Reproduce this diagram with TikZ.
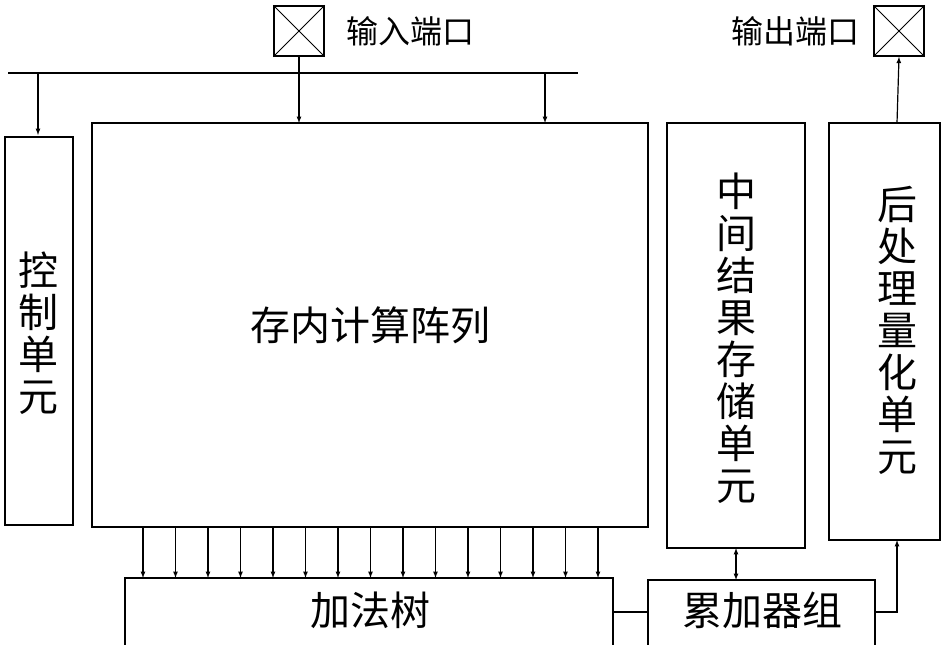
\documentclass[tikz,border=0pt]{standalone}
\usepackage{fontspec}
\newfontfamily\cjk{Noto Sans CJK SC}
\usetikzlibrary{positioning}
\tikzset{
  unitbox/.style={draw, line width=1.4pt},
  port/.style={draw, line width=1.4pt, minimum size=50pt, inner sep=0pt},
  sig/.style={line width=1.2pt, -latex},
  big/.style={font=\cjk\fontsize{40}{42}\selectfont},
  small/.style={font=\cjk\fontsize{32}{34}\selectfont},
}
\begin{document}
\begin{tikzpicture}[x=1pt,y=-1pt]
\useasboundingbox (0,0) rectangle (945,645);
% ports
\node[port] (inport) at (299,31) {};
\draw[line width=1pt] (inport.north west) -- (inport.south east) (inport.north east) -- (inport.south west);
\node[small, right=18pt of inport] (inlabel) {输入端口};
\node[port] (outport) at (899,31) {};
\draw[line width=1pt] (outport.north west) -- (outport.south east) (outport.north east) -- (outport.south west);
\node[small, left=10pt of outport] (outlabel) {输出端口};
% units
\draw[unitbox] (5,137) rectangle (73,525);
\node[big, align=center] (ctrl) at (39,333) {控\\制\\单\\元};
\draw[unitbox] (92,123) rectangle (648,527);
\node[big] (array) at (370,325) {存内计算阵列};
\draw[unitbox] (667,123) rectangle (805,548);
\node[big, align=center] (mid) at (736,338) {中\\间\\结\\果\\存\\储\\单\\元};
\draw[unitbox] (829,123) rectangle (940,540);
\node[big, align=center] (post) at (897,330) {后\\处\\理\\量\\化\\单\\元};
\draw[unitbox] (125,578) rectangle (613,660);
\node[big] (adder) at (370,610) {加法树};
\draw[unitbox] (648,580) rectangle (875,660);
\node[big] (accu) at (762,610) {累加器组};
% bus
\coordinate (busL) at (8,73);
\coordinate (busR) at (578,73);
\draw[line width=1.2pt] (busL) -- (busR);
\draw[line width=1.2pt] (inport.south) -- (299,73);
\draw[sig] (38,73) -- (38,135);
\draw[sig] (299,73) -- (299,123);
\draw[sig] (545,73) -- (545,123);
% array to adder tree
\foreach \i in {0,...,14}
{\draw[sig] (143+\i*32.5,527) -- (143+\i*32.5,578); }
\draw[line width=1.2pt] (613,612) -- (648,612);
\draw[line width=1.2pt, latex-latex] (736,548) -- (736,580);
\draw[sig] (875,612) -| (897,540);
\draw[sig] (897,123) -- (outport.south);
\end{tikzpicture}
\end{document}
